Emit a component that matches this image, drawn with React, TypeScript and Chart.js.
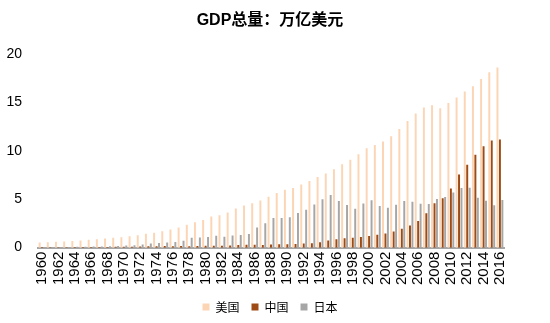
import React, { useEffect, useRef } from "react";
import { Chart, registerables } from "chart.js";

Chart.register(...registerables);

const years: string[] = [];
for (let y = 1960; y <= 2016; y++) years.push(String(y));

const usGdp = [
  0.543, 0.563, 0.605, 0.639, 0.686, 0.744, 0.815, 0.862, 0.943, 1.02,
  1.075, 1.167, 1.282, 1.429, 1.549, 1.689, 1.877, 2.086, 2.357, 2.632,
  2.862, 3.211, 3.345, 3.638, 4.041, 4.347, 4.59, 4.87, 5.253, 5.658,
  5.98, 6.174, 6.539, 6.879, 7.309, 7.664, 8.1, 8.609, 9.089, 9.661,
  10.285, 10.622, 10.978, 11.511, 12.275, 13.094, 13.856, 14.478, 14.719, 14.419,
  14.964, 15.518, 16.155, 16.692, 17.428, 18.121, 18.625,
];

const chinaGdp = [
  0.06, 0.05, 0.047, 0.051, 0.06, 0.07, 0.077, 0.073, 0.071, 0.08,
  0.093, 0.1, 0.114, 0.139, 0.144, 0.163, 0.154, 0.175, 0.15, 0.178,
  0.191, 0.196, 0.205, 0.23, 0.26, 0.309, 0.301, 0.272, 0.312, 0.348,
  0.361, 0.383, 0.427, 0.445, 0.564, 0.735, 0.864, 0.962, 1.029, 1.094,
  1.211, 1.339, 1.471, 1.66, 1.955, 2.286, 2.752, 3.552, 4.598, 5.11,
  6.101, 7.573, 8.561, 9.607, 10.482, 11.065, 11.191,
];

const japanGdp = [
  0.044, 0.054, 0.061, 0.07, 0.082, 0.091, 0.106, 0.124, 0.147, 0.172,
  0.213, 0.24, 0.318, 0.432, 0.48, 0.521, 0.586, 0.722, 1.014, 1.055,
  1.105, 1.219, 1.135, 1.243, 1.318, 1.399, 2.078, 2.533, 3.072, 3.055,
  3.133, 3.584, 3.909, 4.455, 4.999, 5.45, 4.833, 4.414, 4.032, 4.563,
  4.888, 4.304, 4.115, 4.446, 4.815, 4.755, 4.53, 4.515, 5.038, 5.231,
  5.7, 6.158, 6.203, 5.156, 4.85, 4.39, 4.927,
];

const yTicks = [0, 5, 10, 15, 20];

export default function App() {
  const ref = useRef<HTMLCanvasElement>(null);
  useEffect(() => {
    if (!ref.current) return;
    const chart = new Chart(ref.current, {
      type: "bar",
      data: {
        labels: years,
        datasets: [
          { label: "美国", data: usGdp, backgroundColor: "#FCD5B5" },
          { label: "中国", data: chinaGdp, backgroundColor: "#9E4A14" },
          { label: "日本", data: japanGdp, backgroundColor: "#A6A6A6" },
        ],
      },
      options: {
        animation: false,
        responsive: false,
        maintainAspectRatio: false,
        layout: { padding: { left: 6, right: 16, top: 6, bottom: 0 } },
        datasets: {
          bar: { categoryPercentage: 0.9, barPercentage: 0.8 },
        },
        plugins: {
          title: {
            display: true,
            text: "GDP总量：万亿美元",
            color: "#000",
            font: { family: "'Liberation Sans', 'Noto Sans CJK SC', sans-serif", size: 16, weight: "bold" },
            padding: { top: 5, bottom: 24 },
          },
          legend: {
            position: "bottom",
            labels: {
              boxWidth: 7,
              boxHeight: 7,
              padding: 12,
              color: "#000",
              font: { family: "'Noto Sans CJK SC', sans-serif", size: 12 },
            },
          },
          tooltip: { enabled: false },
        },
        scales: {
          x: {
            grid: { display: false, drawTicks: false },
            border: { display: true, color: "#A6A6A6", width: 2 },
            ticks: {
              autoSkip: false,
              maxRotation: 90,
              minRotation: 90,
              padding: 4,
              color: "#000",
              font: { family: "'Liberation Sans', Arial, sans-serif", size: 15 },
              callback: (_v: any, i: number) => (i % 2 === 0 ? years[i] : ""),
            },
            afterFit: (axis: any) => {
              axis.paddingLeft = 0;
              axis.paddingRight = 0;
            },
          },
          y: {
            min: 0,
            max: 20,
            afterBuildTicks: (axis: any) => {
              axis.ticks = yTicks.map((v) => ({ value: v }));
            },
            afterFit: (axis: any) => {
              axis.width = 32;
              axis.paddingLeft = 0;
              axis.paddingRight = 0;
            },
            grid: { display: false, drawTicks: false },
            border: { display: false },
            ticks: {
              padding: 16,
              color: "#000",
              font: { family: "'Liberation Sans', Arial, sans-serif", size: 14 },
            },
          },
          yRight: {
            position: "right",
            min: 0,
            max: 20,
            grid: { display: false, drawTicks: false },
            border: { display: false },
            ticks: { display: false },
            afterFit: (axis: any) => {
              axis.width = 30;
            },
          },
        },
      },
    });
    return () => chart.destroy();
  }, []);
  return (
    <div style={{ position: "fixed", left: 0, top: 0, width: 550, height: 323, background: "#fff" }}>
      <canvas ref={ref} width={550} height={323} style={{ width: 550, height: 323 }} />
    </div>
  );
}
